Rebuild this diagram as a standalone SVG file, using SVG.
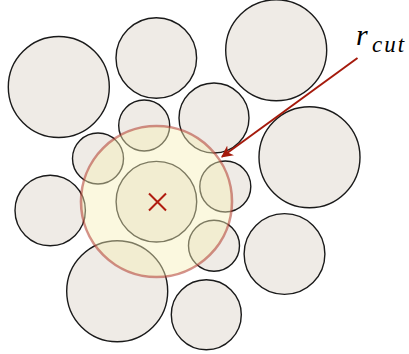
<svg xmlns="http://www.w3.org/2000/svg" width="409" height="354" viewBox="0 0 409 354">
<style>
.p{fill:#efebe6;stroke:#1a1a1a;stroke-width:1.4}
.cut{fill:#f7f0b8;fill-opacity:0.45;stroke:#b03a30;stroke-opacity:0.55;stroke-width:2.6}
.x{stroke:#b01c10;stroke-width:2;fill:none}
.lbl{font-family:"Liberation Serif",serif;font-style:italic;fill:#000}
</style>
<defs>
<marker id="ah" viewBox="0 0 10 10" refX="9" refY="5" markerWidth="6" markerHeight="6" markerUnits="strokeWidth" orient="auto">
<path d="M0,0 L10,5 L0,10 L3,5 z" fill="#a51a0c"/>
</marker>
</defs>
<g id="particles">
<g id="p1"><circle class="p" cx="58.8" cy="87" r="50.5"/></g>
<g id="p2"><circle class="p" cx="156.3" cy="58" r="40.3"/></g>
<g id="p3"><circle class="p" cx="276.2" cy="50.2" r="50.5"/></g>
<g id="p4"><circle class="p" cx="144.2" cy="125.5" r="25.5"/></g>
<g id="p5"><circle class="p" cx="98" cy="158.5" r="25.5"/></g>
<g id="p6"><circle class="p" cx="214" cy="118" r="35"/></g>
<g id="p7"><circle class="p" cx="309.5" cy="157.2" r="50.5"/></g>
<g id="p8"><circle class="p" cx="225.3" cy="186.5" r="25.5"/></g>
<g id="p9"><circle class="p" cx="50.2" cy="210.5" r="35.2"/></g>
<g id="p10"><circle class="p" cx="156.4" cy="201.7" r="40.3"/></g>
<g id="p11"><circle class="p" cx="214" cy="245.8" r="25.5"/></g>
<g id="p12"><circle class="p" cx="284.5" cy="254" r="40.4"/></g>
<g id="p13"><circle class="p" cx="117.2" cy="291.3" r="50.5"/></g>
<g id="p14"><circle class="p" cx="206.3" cy="314.7" r="35"/></g>
</g>
<g id="cutoff">
<circle class="cut" cx="156.5" cy="201.5" r="75.5"/>
<path class="x" d="M149,193.5 L166,210.5 M166,193.5 L149,210.5"/>
</g>
<g id="connectors">
<line x1="357.5" y1="58" x2="222" y2="156.8" stroke="#a51a0c" stroke-width="2" marker-end="url(#ah)"/>
</g>
<g id="label">
<text class="lbl" x="356" y="45" font-size="30">r</text>
<text class="lbl" x="372" y="52" font-size="23" letter-spacing="2">cut</text>
</g>
</svg>
